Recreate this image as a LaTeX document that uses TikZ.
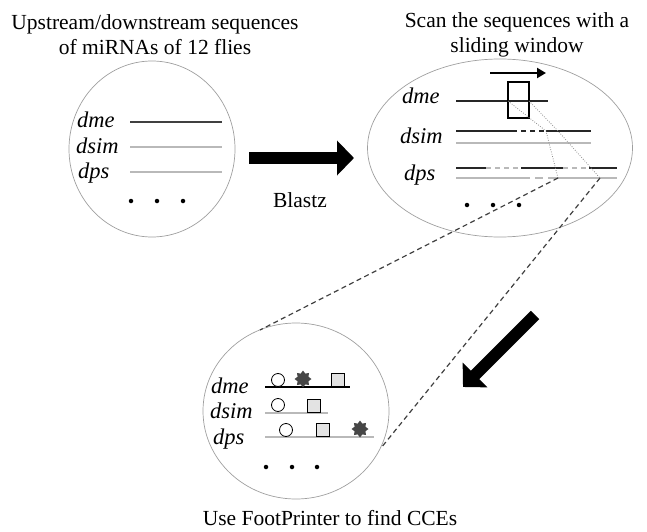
\documentclass[tikz,border=0pt]{standalone}
\usepackage{fontspec}
\setmainfont{Liberation Serif}
\usetikzlibrary{shapes.geometric,arrows.meta}
\begin{document}
\begin{tikzpicture}[x=1pt,y=-1pt,
  txt/.style={font=\fontsize{21.5}{25}\selectfont, align=center, inner sep=0pt},
  lab/.style={font=\fontsize{22.5}{22.5}\selectfont\itshape, anchor=base west, inner sep=0pt},
  bubble/.style={draw=gray!75, line width=0.7pt, ellipse, inner sep=0pt},
  bseq/.style={line width=2.4pt, draw=black!85},
  gseq/.style={line width=2.4pt, draw=gray!55},
  gap/.style={line width=1.6pt, dash pattern=on 5pt off 4pt},
  zoomline/.style={draw=black!75, line width=1.2pt, dash pattern=on 5pt off 3.5pt},
  trace/.style={draw=gray!90, line width=0.8pt, dash pattern=on 0.8pt off 1.6pt},
  bigarrow/.style={line width=12pt, -{Triangle[length=17pt,width=34pt]}},
  dotmark/.style={circle, fill=black, inner sep=0pt, minimum size=4.5pt},
  motifc/.style={circle, draw=black, fill=white, line width=0.8pt, inner sep=0pt, minimum size=13pt},
  motifs/.style={rectangle, draw=black, fill=gray!22, line width=0.8pt, inner sep=0pt, minimum size=13pt},
  motifstar/.style={star, star points=8, star point ratio=1.45, fill=gray!55!black, inner sep=0pt, minimum size=17pt}
]
\useasboundingbox (0,0) rectangle (647,532);

% titles
\node[txt] (t1) at (155,35) {Upstream/downstream sequences\\of miRNAs of 12 flies};
\node[txt] (t2) at (517,35) {Scan the sequences with a\\sliding window};
\node[txt] (t3) at (330,518) {Use FootPrinter to find CCEs};
\node[txt] (blastz) at (300,200) {Blastz};

% bubbles
\node[bubble, minimum width=166pt, minimum height=176pt] (c1) at (152,149) {};
\node[bubble, minimum width=265pt, minimum height=178pt] (c2) at (500,148) {};
\node[bubble, minimum width=186pt, minimum height=176pt] (c3) at (296,411) {};

% ---------- left bubble
\node[lab] (l1a) at (77,128) {dme};
\node[lab] (l1b) at (76,153) {dsim};
\node[lab] (l1c) at (78,178) {dps};
\draw[bseq, draw=black!75] (130,122) -- (222,122);
\draw[gseq] (130,147) -- (222,147);
\draw[gseq] (130,172) -- (222,172);
\node[dotmark] at (131,201) {};
\node[dotmark] at (157,201) {};
\node[dotmark] at (183,201) {};

% big arrows
\coordinate (a1s) at (249,158);
\coordinate (a1e) at (354,158);
\draw[bigarrow] (a1s) -- (a1e);
\coordinate (a2s) at (535,315);
\coordinate (a2e) at (463,387);
\draw[bigarrow] (a2s) -- (a2e);

% ---------- right bubble
\node[lab] (l2a) at (402,103) {dme};
\node[lab] (l2b) at (400,143) {dsim};
\node[lab] (l2c) at (404,180) {dps};
\coordinate (sl1) at (490,73);
\coordinate (sl2) at (546,73);
\draw[line width=2.4pt, -{Triangle[length=9pt,width=10pt]}] (sl1) -- (sl2);
\draw[bseq] (456,101) -- (548,101);
\node[draw=black, line width=1.1pt, minimum width=21pt, minimum height=36pt, inner sep=0pt] (win) at (518.5,100) {};
% dsim
\draw[bseq] (456,131) -- (512,131);
\draw[bseq, gap] (512,131) -- (546,131);
\draw[bseq] (546,131) -- (591,131);
\draw[gseq] (456,143) -- (591,143);
% dps
\draw[bseq] (456,168) -- (486,168);
\draw[gseq, gap] (486,168) -- (521,168);
\draw[bseq] (521,168) -- (563,168);
\draw[gseq, gap] (563,168) -- (589,168);
\draw[bseq] (589,168) -- (617,168);
\draw[gseq] (456,178) -- (522,178);
\draw[gseq, line width=1.4pt, dash pattern=on 8pt off 5pt] (522,178) -- (549,178);
\draw[gseq] (549,178) -- (617,178);
\node[dotmark] at (467,205) {};
\node[dotmark] at (493,205) {};
\node[dotmark] at (519,205) {};
% traces
\coordinate (w1) at (508,101);
\coordinate (w2) at (529,101);
\coordinate (m1) at (546,131);
\coordinate (m2) at (558,131);
\coordinate (p1) at (558,178);
\coordinate (p2) at (600,178);
\draw[trace] (w1) -- (m1) -- (p1);
\draw[trace] (w2) -- (m2) -- (p2);
% zoom lines
\coordinate (q1) at (260,330);
\coordinate (q2) at (381,448);
\draw[zoomline] (p1) -- (q1);
\draw[zoomline] (p2) -- (q2);

% ---------- bottom bubble
\node[lab] (l3a) at (211,393) {dme};
\node[lab] (l3b) at (210,418) {dsim};
\node[lab] (l3c) at (213,444) {dps};
\draw[line width=2.4pt, draw=black] (265,387) -- (350,387);
\draw[gseq] (265,413) -- (328,413);
\draw[gseq] (265,437) -- (374,437);
\node[motifc] (o1) at (278,380) {};
\node[motifstar] (s1) at (303,379) {};
\node[motifs] (r1) at (337.5,379.5) {};
\node[motifc] (o2) at (278,405) {};
\node[motifs] (r2) at (313.5,405.5) {};
\node[motifc] (o3) at (286,430) {};
\node[motifs] (r3) at (322.5,430) {};
\node[motifstar] (s3) at (360,429) {};
\node[dotmark] at (266,467) {};
\node[dotmark] at (292,467) {};
\node[dotmark] at (317,467) {};
\end{tikzpicture}
\end{document}
